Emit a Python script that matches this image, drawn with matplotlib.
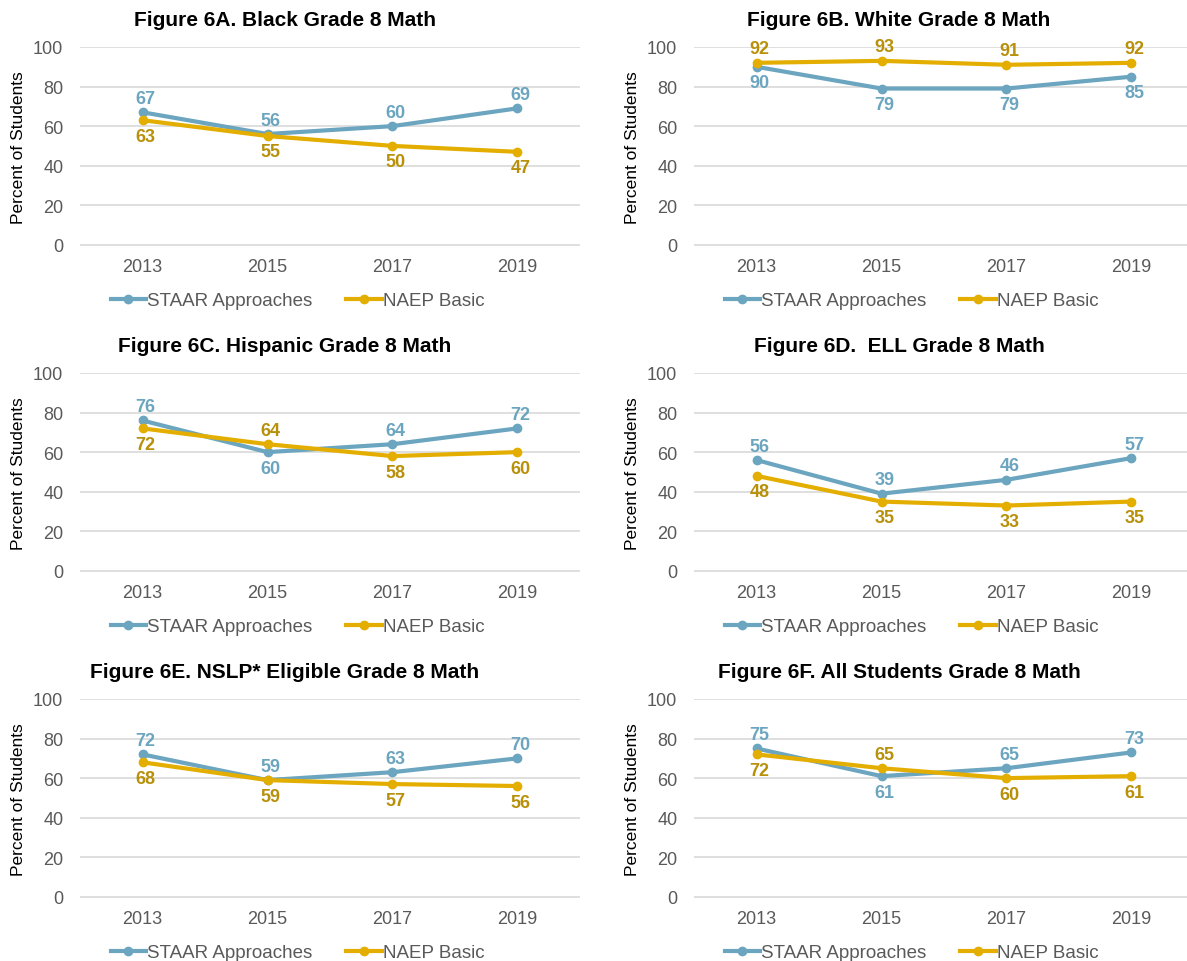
import matplotlib.pyplot as plt

plt.rcParams['font.family'] = ['Liberation Sans', 'DejaVu Sans']

years = ['2013', '2015', '2017', '2019']

titles = [
    'Figure 6A. Black Grade 8 Math',
    'Figure 6B. White Grade 8 Math',
    'Figure 6C. Hispanic Grade 8 Math',
    'Figure 6D.  ELL Grade 8 Math',
    'Figure 6E. NSLP* Eligible Grade 8 Math',
    'Figure 6F. All Students Grade 8 Math',
]

staar_a = [67, 56, 60, 69]
naep_a = [63, 55, 50, 47]
staar_b = [90, 79, 79, 85]
naep_b = [92, 93, 91, 92]
staar_c = [76, 60, 64, 72]
naep_c = [72, 64, 58, 60]
staar_d = [56, 39, 46, 57]
naep_d = [48, 35, 33, 35]
staar_e = [72, 59, 63, 70]
naep_e = [68, 59, 57, 56]
staar_f = [75, 61, 65, 73]
naep_f = [72, 65, 60, 61]

# label side: +1 above the point, -1 below
staar_side = [[1, 1, 1, 1], [-1, -1, -1, -1], [1, -1, 1, 1],
              [1, 1, 1, 1], [1, 1, 1, 1], [1, -1, 1, 1]]
naep_side = [[-1, -1, -1, -1], [1, 1, 1, 1], [-1, 1, -1, -1],
             [-1, -1, -1, -1], [-1, -1, -1, -1], [-1, 1, -1, -1]]

staar = [staar_a, staar_b, staar_c, staar_d, staar_e, staar_f]
naep = [naep_a, naep_b, naep_c, naep_d, naep_e, naep_f]

blue = '#6BA5BF'
gold = '#E4AE00'
gold_txt = '#B8900A'
grey = '#595959'

W, H = 1187, 962
fig = plt.figure(figsize=(W / 100, H / 100), dpi=100)

col_left = [80, 694]
row_top = [48, 374, 700]
aw, ah = 500, 199


def offset(side):
    return 10 if side > 0 else -11.5


for i in range(6):
    r, c = divmod(i, 2)
    x0 = col_left[c]
    y0 = row_top[r]
    ax = fig.add_axes([x0 / W, 1 - (y0 + ah) / H, aw / W, ah / H])
    xs = range(len(years))
    ax.plot(xs, staar[i], color=blue, lw=3, marker='o', ms=6, label='STAAR Approaches',
            clip_on=False, zorder=3)
    ax.plot(xs, naep[i], color=gold, lw=3, marker='o', ms=6, label='NAEP Basic',
            clip_on=False, zorder=3)
    for j in xs:
        ax.annotate(str(staar[i][j]), (j, staar[i][j]), xytext=(2, offset(staar_side[i][j])),
                    textcoords='offset points', ha='center', va='center',
                    color=blue, fontsize=13, fontweight='bold', annotation_clip=False)
        ax.annotate(str(naep[i][j]), (j, naep[i][j]), xytext=(2, offset(naep_side[i][j])),
                    textcoords='offset points', ha='center', va='center',
                    color=gold_txt, fontsize=13, fontweight='bold', annotation_clip=False)
    ax.set_xlim(-0.5, 3.5)
    ax.set_ylim(-0.6, 100)
    ax.set_yticks(range(0, 101, 20))
    ax.set_xticks(list(xs))
    ax.set_xticklabels(years)
    ax.grid(axis='y', color='#D9D9D9', lw=1.2)
    ax.set_axisbelow(True)
    for s in ax.spines.values():
        s.set_visible(False)
    ax.tick_params(length=0, labelsize=13, labelcolor=grey, pad=9)
    ax.tick_params(axis='y', pad=12)
    ax.set_ylabel('Percent of Students', fontsize=12.5, color='black', labelpad=5)
    ax.set_title(titles[i], fontsize=15, fontweight='bold', pad=16, x=0.41)
    ax.legend(loc='upper center', bbox_to_anchor=(0.435, -0.195), ncol=2, frameon=False,
              fontsize=13.5, labelcolor=grey, handlelength=1.9, handletextpad=0.05,
              columnspacing=1.8, borderaxespad=0)

fig.savefig('out.png', dpi=100)
